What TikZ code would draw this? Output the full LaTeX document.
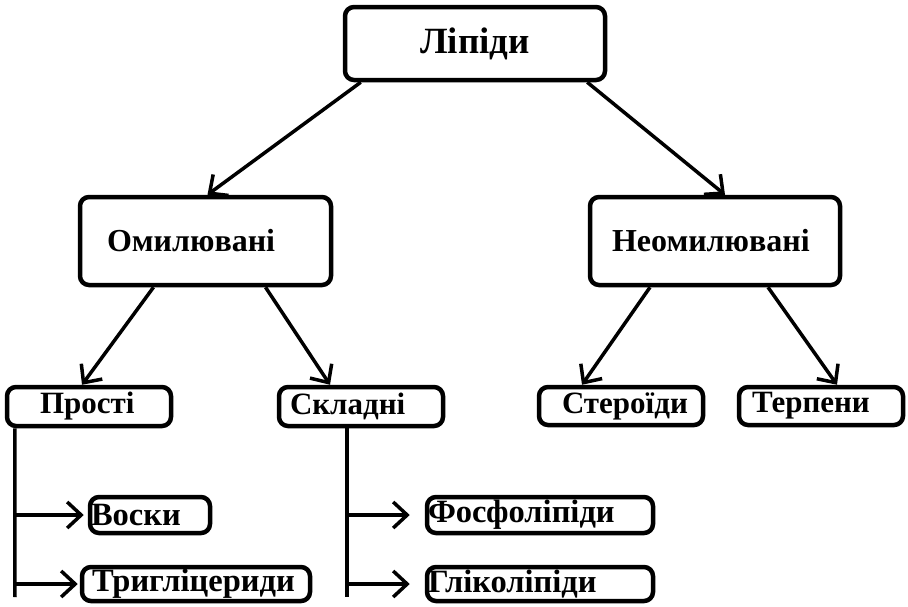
\documentclass[tikz,border=0pt]{standalone}
\usepackage{fontspec}
\setmainfont{Liberation Serif}
\usepackage{tikz}
\usetikzlibrary{arrows.meta}

\tikzset{
  box/.style={draw, line width=4.5pt, rounded corners=9pt, inner xsep=0pt,
    inner ysep=0pt, align=left, font=\bfseries\fontsize{31}{33}\selectfont},
  smallbox/.style={box, font=\bfseries\fontsize{32.5}{34}\selectfont},
  arr/.style={line width=3.5pt, -{Straight Barb[length=14pt, width=26pt]}},
  trunk/.style={line width=3.5pt}
}

\begin{document}
\begin{tikzpicture}[x=1pt, y=-1pt]
		\useasboundingbox (0,0) rectangle (908,606);
		
		% Boxes
		\node[box, text width=260pt, minimum height=73pt, align=center,
		  font=\bfseries\fontsize{37}{39}\selectfont] (lip) at (475,43.5) {Ліпіди};
		\node[box, text width=251pt, minimum height=88pt,
		  font=\bfseries\fontsize{32}{34}\selectfont] (omyl) at (205.5,241) {\hspace*{27pt}Омилювані};
		\node[box, text width=250pt, minimum height=88pt,
		  font=\bfseries\fontsize{32}{34}\selectfont] (neomyl) at (715,241) {\hspace*{22pt}Неомилювані};
		
		\node[box, text width=164pt, minimum height=39pt] (prosti) at (89,406.5) {\hspace*{33pt}Прості};
		\node[box, text width=164pt, minimum height=39pt] (skladni) at (361,406.5) {\hspace*{11pt}Складні};
		\node[box, text width=164pt, minimum height=38pt] (steroidy) at (621,406) {\hspace*{23pt}Стероїди};
		\node[box, text width=164pt, minimum height=38pt] (terpeny) at (821,406) {\hspace*{13pt}Терпени};
		
		\node[smallbox, text width=120pt, minimum height=36pt] (vosky) at (150,515) {\hspace*{1pt}Воски};
		\node[smallbox, text width=228pt, minimum height=34pt] (tryhl) at (196,584) {\hspace*{10pt}Тригліцериди};
		\node[smallbox, text width=226pt, minimum height=36pt] (fosfo) at (540,515) {\hspace*{1pt}Фосфоліпіди};
		\node[smallbox, text width=226pt, minimum height=34pt] (hliko) at (540,584) {\hspace*{1pt}Гліколіпіди};
		
		% Arrows between levels
		\draw[arr] ([xshift=18pt]lip.south west) -- ([xshift=2pt]omyl.north);
		\draw[arr] ([xshift=-20pt]lip.south east) -- ([xshift=10pt]neomyl.north);
		\draw[arr] ([xshift=-52pt]omyl.south) -- ([xshift=-7pt]prosti.north);
		\draw[arr] ([xshift=60pt]omyl.south) -- ([xshift=-31pt]skladni.north);
		\draw[arr] ([xshift=-65pt]neomyl.south) -- ([xshift=-39pt]steroidy.north);
		\draw[arr] ([xshift=53pt]neomyl.south) -- ([xshift=16pt]terpeny.north);
		
		% Trunks
		\coordinate (ptop) at ([xshift=10pt]prosti.south west);
		\coordinate (pend) at (15,597);
		\coordinate (stop) at ([xshift=-14pt]skladni.south);
		\coordinate (send) at (347,597);
		\draw[trunk] (ptop) -- (pend);
		\draw[trunk] (stop) -- (send);
		\draw[arr, shorten >=4pt] (ptop |- vosky.west) -- (vosky.west);
		\draw[arr, shorten >=2pt] (ptop |- tryhl.west) -- (tryhl.west);
		\draw[arr, shorten >=15pt] (stop |- fosfo.west) -- (fosfo.west);
		\draw[arr, shorten >=15pt] (stop |- hliko.west) -- (hliko.west);
	\end{tikzpicture}
\end{document}
